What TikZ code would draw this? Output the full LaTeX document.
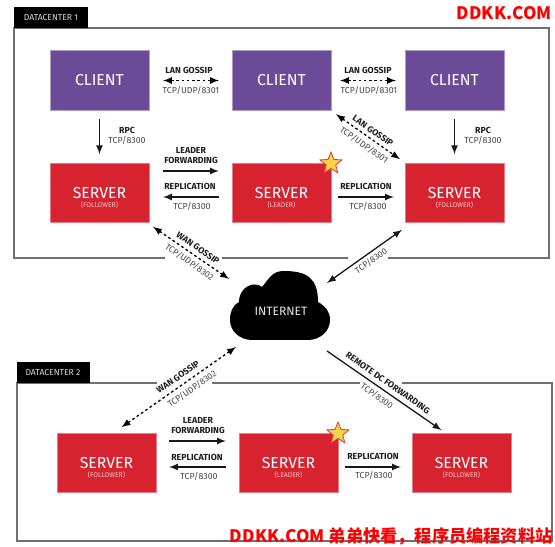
\documentclass[tikz,border=0pt]{standalone}
\usepackage{fontspec}
\setmainfont{Fira Sans}
\newfontfamily\cjk{Noto Sans CJK SC}
\usetikzlibrary{calc,shapes.geometric}
\tikzset{>=latex}
\definecolor{myclient}{HTML}{6B4B98}
\definecolor{myserver}{HTML}{D72230}
\definecolor{myframe}{HTML}{707070}
\definecolor{mystar}{HTML}{F5D547}
\colorlet{myport}{black!72}
\tikzstyle{box}=[minimum width=1.98cm,minimum height=1.19cm,inner sep=0,outer sep=0,text=white,font=\fontsize{9}{10}\selectfont]
\tikzstyle{client}=[box,fill=myclient,draw=myclient!55!white,line width=0.3pt]
\tikzstyle{server}=[box,fill=myserver,draw=myserver!60!white,line width=0.3pt]
\tikzstyle{role}=[inner sep=0,text=white!75!myserver,font=\fontsize{3.9}{4}\selectfont]
\tikzstyle{title}=[inner sep=0,text=black!88,font=\fontsize{5}{6}\selectfont\bfseries]
\tikzstyle{port}=[inner sep=0,text=myport,font=\fontsize{5}{6}\selectfont]
\tikzstyle{tab}=[fill=black,text=white!85!black,inner sep=0,font=\fontsize{4.9}{6}\selectfont]
\tikzstyle{link}=[line width=0.75pt,black!90]
\tikzstyle{gossip}=[<->,line width=0.75pt,black,dash pattern=on 1.5pt off 1.5pt]
\tikzstyle{frame}=[myframe,line width=0.8pt]
\tikzstyle{leader}=[star,star points=5,star point ratio=2.3,minimum size=0.46cm,inner sep=0,fill=mystar,draw=myserver!85!white,line width=0.5pt]
\tikzstyle{sitemark}=[inner sep=0,text=red,font=\cjk\bfseries\fontsize{9.8}{12}\selectfont]

\begin{document}
\begin{tikzpicture}[x=0.02cm,y=-0.02cm]
  \useasboundingbox[fill=white] (0,0) rectangle (555,547);

  % datacenter 1
  \draw[frame] (165,258) -- (14,258) -- (14,28) -- (549,28) -- (549,258) -- (388,258);
  \draw[frame] (222,258) -- (348,258);
  \fill[black] (14,7) rectangle (88,28);
  \node[tab] (dcone) at (51,17.5) {DATACENTER 1};
  \node[client] (client1) at (99.5,80.5) {CLIENT};
  \node[client] (client2) at (281.5,80.5) {CLIENT};
  \node[client] (client3) at (454.5,80.5) {CLIENT};
  \node[server] (server1) at (99.5,193) {SERVER};
  \node[server] (server2) at (281.5,193) {SERVER};
  \node[server] (server3) at (454.5,193) {SERVER};
  \node[role] (role1) at (99.5,205.5) {(FOLLOWER)};
  \node[role] (role2) at (281.5,205.5) {(LEADER)};
  \node[role] (role3) at (454.5,205.5) {(FOLLOWER)};
  \node[leader] (star1) at (331,163.5) {};

  % datacenter 2
  \draw[frame] (157,383) -- (17,383) -- (17,541) -- (552,541) -- (552,383) -- (402,383);
  \draw[frame] (212,383) -- (360,383);
  \fill[black] (17,362) rectangle (90,383);
  \node[tab] (dctwo) at (53,372.5) {DATACENTER 2};
  \node[server] (server4) at (106.5,463) {SERVER};
  \node[server] (server5) at (288.5,463) {SERVER};
  \node[server] (server6) at (461.5,463) {SERVER};
  \node[role] (role4) at (106.5,475.5) {(FOLLOWER)};
  \node[role] (role5) at (288.5,475.5) {(LEADER)};
  \node[role] (role6) at (461.5,475.5) {(FOLLOWER)};
  \node[leader] (star2) at (338,433.5) {};

  % cloud
  \fill[black] (252,340) -- (308,340)
    to[out=0,in=-90] (330,320) to[out=90,in=-30] (318,302)
    to[out=90,in=0,looseness=1.3] (284,271) to[out=180,in=50,looseness=1.1] (262,287)
    to[out=150,in=10] (253,284.5) to[out=-170,in=90] (239,302)
    to[out=-150,in=90] (230,320) to[out=-90,in=180] (252,340) -- cycle;
  \node[inner sep=0,text=white!90!black,font=\fontsize{6.9}{8}\selectfont] (internet) at (281,311) {INTERNET};
  \coordinate (cloudNW) at (229,279);
  \coordinate (cloudNE) at (327,283);
  \coordinate (cloudSW) at (236,347);
  \coordinate (cloudSE) at (327,351);

  % clients
  \draw[gossip] ($(client1.east)+(14,0)$) -- ($(client2.west)+(-13,0)$);
  \draw[gossip] ($(client2.east)+(9,0)$) -- ($(client3.west)+(-9,0)$);
  \draw[gossip] ($(client2.south east)+(5,4)$) -- ($(server3.north west)+(-5,-4)$);
  \draw[->,link] ($(client1.south)+(0,9)$) -- ($(server1.north)+(0,-9)$);
  \draw[->,link] ($(client3.south)+(0,9)$) -- ($(server3.north)+(0,-9)$);
  \node[title] (lan1) at (189,70.5) {LAN GOSSIP};
  \node[port] (lanport1) at (191,90) {TCP/UDP/8301};
  \node[title] (lan2) at (368,70.5) {LAN GOSSIP};
  \node[port] (lanport2) at (369,90) {TCP/UDP/8301};
  \node[title,rotate=-35] (lan3) at (373,131) {LAN GOSSIP};
  \node[port,rotate=-35] (lanport3) at (364,145) {TCP/UDP/8301};
  \node[title] (rpc1) at (127,130) {RPC};
  \node[port] (rpcport1) at (127,140) {TCP/8300};
  \node[title] (rpc2) at (483,130) {RPC};
  \node[port] (rpcport2) at (483,140) {TCP/8300};

  % servers
  \draw[->,link] ($(server1.east)+(14,-22)$) -- ($(server2.west)+(-13,-22)$);
  \draw[<-,link] ($(server1.east)+(14,4)$) -- ($(server2.west)+(-13,4)$);
  \draw[->,link] ($(server2.east)+(7,4)$) -- ($(server3.west)+(-11,4)$);
  \node[title,align=center] (fwd1) at (191,155.5) {LEADER\\FORWARDING};
  \node[title] (rep1) at (190,186) {REPLICATION};
  \node[port] (repport1) at (192,206) {TCP/8300};
  \node[title] (rep2) at (366,186) {REPLICATION};
  \node[port] (repport2) at (368,206) {TCP/8300};
  \draw[->,link] ($(server4.east)+(13,-22)$) -- ($(server5.west)+(-13,-22)$);
  \draw[<-,link] ($(server4.east)+(13,4)$) -- ($(server5.west)+(-13,4)$);
  \draw[->,link] ($(server5.east)+(7,4)$) -- ($(server6.west)+(-11,4)$);
  \node[title,align=center] (fwd2) at (198,425.5) {LEADER\\FORWARDING};
  \node[title] (rep3) at (197,457) {REPLICATION};
  \node[port] (repport3) at (199,476) {TCP/8300};
  \node[title] (rep4) at (373,456) {REPLICATION};
  \node[port] (repport4) at (374,475) {TCP/8300};

  % wan
  \draw[gossip] ($(server1.south east)+(4,4)$) -- (cloudNW);
  \draw[<->,link] ($(server3.south west)+(-3,7)$) -- (cloudNE);
  \draw[gossip] ($(server4.north)+(15,-6)$) -- (cloudSW);
  \draw[->,link] (cloudSE) -- ($(server6.north)+(-20,-3)$);
  \node[title,rotate=-35] (wan1) at (198,248) {WAN GOSSIP};
  \node[port,rotate=-35] (wanport1) at (189.5,262) {TCP/UDP/8302};
  \node[port,rotate=35] (wanport2) at (371,261) {TCP/8300};
  \node[title,rotate=35] (wan3) at (178,377) {WAN GOSSIP};
  \node[port,rotate=35] (wanport3) at (192,389) {TCP/UDP/8302};
  \node[title,rotate=-35] (remote) at (388,383) {REMOTE DC FORWARDING};
  \node[port,rotate=-35] (remoteport) at (377,396) {TCP/8300};

  % site marks
  \node[sitemark,anchor=east] (site1) at (552,13.5) {DDKK.COM};
  \node[sitemark,anchor=east] (site2) at (553,536) {DDKK.COM 弟弟快看，程序员编程资料站};
\end{tikzpicture}
\end{document}
